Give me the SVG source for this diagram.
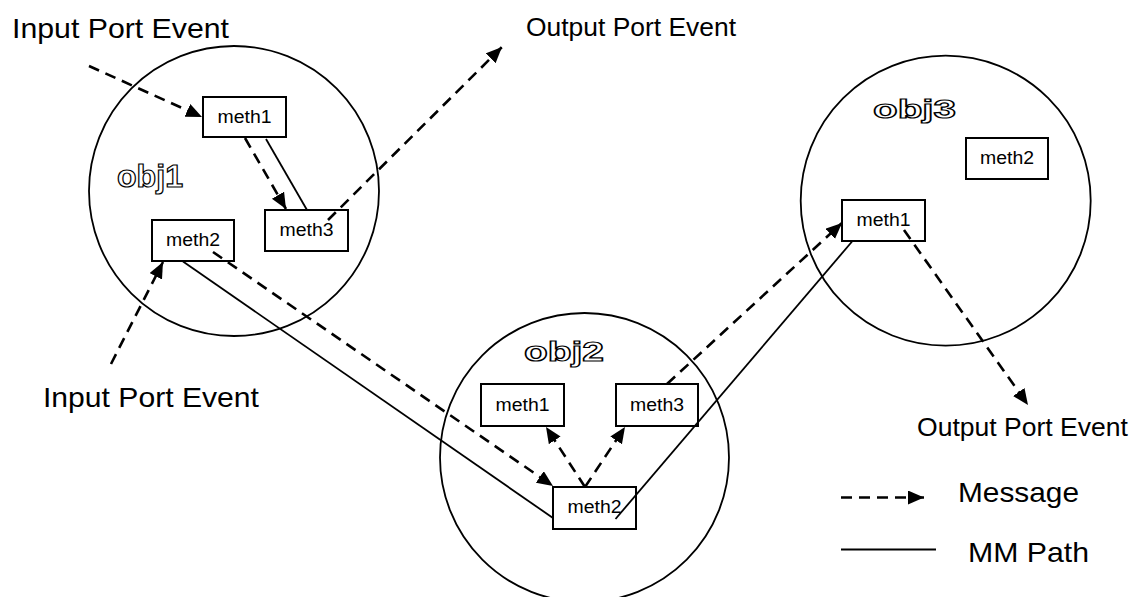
<svg xmlns="http://www.w3.org/2000/svg" width="1132" height="597" viewBox="0 0 1132 597">
  <style>
    .obj { fill: none; stroke: #000; stroke-width: 1.8; }
    .box { fill: #fff; stroke: #000; stroke-width: 2; }
    .meth { font-family: "Liberation Sans", Arial, sans-serif; font-size: 18px; fill: #000; }
    .title { font-family: "Liberation Sans", Arial, sans-serif; font-weight: bold; fill: #fff; stroke: #000; stroke-width: 1.2; }
    .label { font-family: "Liberation Sans", Arial, sans-serif; fill: #000; }
    .msg { fill: none; stroke: #000; stroke-width: 2.6; stroke-dasharray: 11 7; marker-end: url(#head); }
    .path { fill: none; stroke: #000; stroke-width: 1.8; }
  </style>
  <defs>
    <marker id="head" markerUnits="userSpaceOnUse" markerWidth="18" markerHeight="16" refX="16" refY="7" orient="auto">
      <path d="M0,0 L16,7 L0,14 z" fill="#000"/>
    </marker>
  </defs>
  <rect width="1132" height="597" fill="#fff"/>

  <!-- object obj1 -->
  <g id="obj1">
    <circle class="obj" cx="234" cy="191" r="145"/>
    <text class="title" x="117" y="187" font-size="31" textLength="66" lengthAdjust="spacingAndGlyphs">obj1</text>
  </g>
  <g id="obj1-meth1">
    <rect class="box" x="203" y="97" width="83" height="40"/>
    <text class="meth" x="217.5" y="123" textLength="54" lengthAdjust="spacingAndGlyphs">meth1</text>
  </g>
  <g id="obj1-meth3">
    <rect class="box" x="265" y="210" width="83" height="41"/>
    <text class="meth" x="279.5" y="236" textLength="54" lengthAdjust="spacingAndGlyphs">meth3</text>
  </g>
  <g id="obj1-meth2">
    <rect class="box" x="152" y="220" width="82" height="41"/>
    <text class="meth" x="166" y="246" textLength="54" lengthAdjust="spacingAndGlyphs">meth2</text>
  </g>

  <!-- object obj2 -->
  <g id="obj2">
    <circle class="obj" cx="584.5" cy="457.5" r="144.5"/>
    <text class="title" x="524" y="361" font-size="27" textLength="80" lengthAdjust="spacingAndGlyphs">obj2</text>
  </g>
  <g id="obj2-meth1">
    <rect class="box" x="481" y="384" width="83" height="42"/>
    <text class="meth" x="495.5" y="411" textLength="54" lengthAdjust="spacingAndGlyphs">meth1</text>
  </g>
  <g id="obj2-meth3">
    <rect class="box" x="616" y="384" width="82" height="42"/>
    <text class="meth" x="630" y="411" textLength="54" lengthAdjust="spacingAndGlyphs">meth3</text>
  </g>
  <g id="obj2-meth2">
    <rect class="box" x="553" y="487" width="83" height="42"/>
    <text class="meth" x="567.5" y="513" textLength="54" lengthAdjust="spacingAndGlyphs">meth2</text>
  </g>

  <!-- object obj3 -->
  <g id="obj3">
    <circle class="obj" cx="945.7" cy="200.7" r="145"/>
    <text class="title" x="873" y="118" font-size="26" textLength="83" lengthAdjust="spacingAndGlyphs">obj3</text>
  </g>
  <g id="obj3-meth2">
    <rect class="box" x="966" y="138" width="82" height="41"/>
    <text class="meth" x="980" y="164" textLength="54" lengthAdjust="spacingAndGlyphs">meth2</text>
  </g>
  <g id="obj3-meth1">
    <rect class="box" x="842" y="200" width="83" height="41"/>
    <text class="meth" x="856.5" y="226" textLength="54" lengthAdjust="spacingAndGlyphs">meth1</text>
  </g>

  <!-- port event labels -->
  <g id="port-labels">
    <text class="label" x="12" y="38" font-size="28" textLength="217" lengthAdjust="spacingAndGlyphs">Input Port Event</text>
    <text class="label" x="526" y="36" font-size="25.5" textLength="210" lengthAdjust="spacingAndGlyphs">Output Port Event</text>
    <text class="label" x="43" y="407" font-size="28" textLength="216" lengthAdjust="spacingAndGlyphs">Input Port Event</text>
    <text class="label" x="917" y="436" font-size="25.5" textLength="211" lengthAdjust="spacingAndGlyphs">Output Port Event</text>
  </g>

  <!-- messages (dashed) and MM path (solid) -->
  <g id="connectors">
    <line class="msg" x1="89" y1="66" x2="202" y2="117"/>
    <line class="msg" x1="245" y1="138" x2="286" y2="209"/>
    <line class="path" x1="266" y1="139" x2="307" y2="210"/>
    <line class="msg" x1="328" y1="220" x2="502" y2="47"/>
    <line class="msg" x1="111" y1="364" x2="163" y2="262"/>
    <line class="msg" x1="213" y1="252" x2="553" y2="486"/>
    <line class="path" x1="183" y1="261.5" x2="553" y2="518"/>
    <line class="msg" x1="585" y1="487" x2="546" y2="427"/>
    <line class="msg" x1="585" y1="487" x2="625" y2="427"/>
    <line class="msg" x1="667" y1="384" x2="842" y2="223"/>
    <line class="path" x1="615.5" y1="519" x2="852.5" y2="241"/>
    <line class="msg" x1="904" y1="230" x2="1028" y2="405"/>
  </g>

  <!-- legend -->
  <g id="legend">
    <line class="msg" x1="841" y1="497.5" x2="924" y2="497.5"/>
    <text class="label" x="958" y="502" font-size="28" textLength="121" lengthAdjust="spacingAndGlyphs">Message</text>
    <line class="path" x1="841" y1="549.5" x2="936" y2="549.5"/>
    <text class="label" x="968" y="562" font-size="28" textLength="121" lengthAdjust="spacingAndGlyphs">MM Path</text>
  </g>
</svg>
